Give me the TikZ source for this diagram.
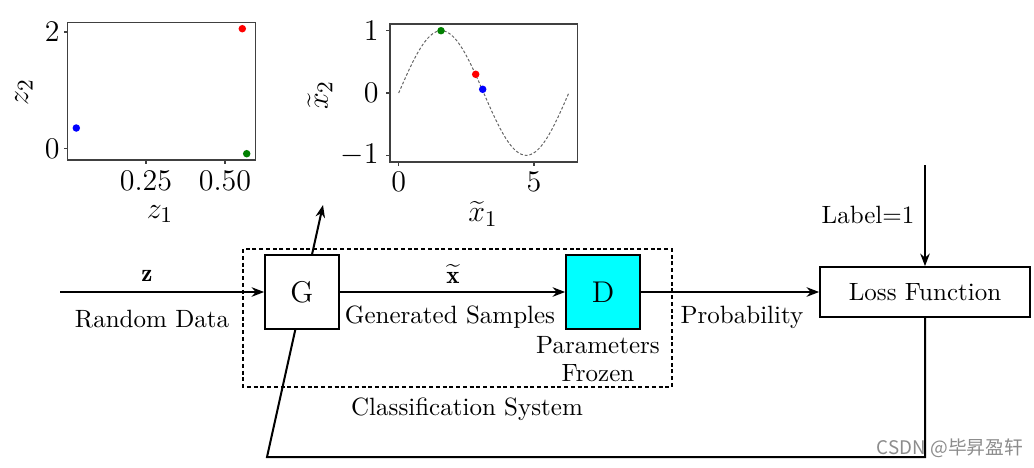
\documentclass[tikz,border=0pt]{standalone}
\usepackage{fontspec}
\newfontfamily\cjkfont{Noto Sans CJK SC}
\usetikzlibrary{arrows.meta}
\definecolor{dcyan}{RGB}{0,255,255}
\definecolor{dgreen}{RGB}{0,128,0}
\begin{document}
\begin{tikzpicture}[x=0.4pt,y=-0.4pt,
  frame/.style={draw=black!75, line width=0.55pt},
  tickmark/.style={draw=black!75, line width=0.55pt},
  ticklab/.style={font=\fontsize{12}{14}\selectfont, inner sep=0pt},
  axlab/.style={font=\fontsize{12.5}{14}\selectfont, inner sep=0pt},
  conn/.style={line width=0.8pt, -{Stealth[length=5pt,width=3.8pt]}},
  blockbox/.style={draw, line width=0.7pt, fill=white, minimum width=29.6pt, minimum height=29.6pt, inner sep=0pt, font=\fontsize{12}{14}\selectfont},
  lbl/.style={inner sep=0pt, font=\fontsize{10}{12}\selectfont}
]
\useasboundingbox (0,0) rectangle (1034,467);

% ---------- left scatter plot ----------
\draw[frame] (67.7,22.7) rectangle (255.3,160);
\foreach \y/\t in {32/2,148.7/0} {
  \draw[tickmark] (67.7,\y) -- (63.7,\y);
  \node[ticklab, anchor=east] (ly\t) at (60,\y) {$\t$};
}
\foreach \x/\t/\n in {146/0.25/a,225/0.50/b} {
  \draw[tickmark] (\x,160) -- (\x,164);
  \node[ticklab, anchor=north] (lx\n) at (\x,171) {$\t$};
}
\node[axlab] (zone) at (160,214) {$z_1$};
\node[axlab, rotate=90] (ztwo) at (24,92) {$z_2$};
\fill[red] (242.3,28.7) circle[radius=1.5pt];
\fill[blue] (76.3,128) circle[radius=1.5pt];
\fill[dgreen] (246.7,153.7) circle[radius=1.5pt];

% ---------- right sine plot ----------
\draw[frame] (390,24) rectangle (577.7,162);
\draw[black!60, line width=0.4pt, dash pattern=on 1.1pt off 0.8pt]
  plot[domain=0:6.2832, samples=120, smooth] ({398.7+27.07*\x},{93-62.3*sin(\x r)});
\foreach \y/\t/\n in {30.7/1/a,93/0/b,155.3/-1/c} {
  \draw[tickmark] (390,\y) -- (386,\y);
  \node[ticklab, anchor=east] (ry\n) at (379,\y) {$\t$};
}
\foreach \x/\t in {398.7/0,534/5} {
  \draw[tickmark] (\x,162) -- (\x,166);
  \node[ticklab, anchor=north] (rx\t) at (\x,172) {$\t$};
}
\node[axlab] (xone) at (483,214) {$\widetilde{x}_1$};
\node[axlab, rotate=90] (xtwo) at (320,95) {$\widetilde{x}_2$};
\fill[dgreen] (441,30.7) circle[radius=1.5pt];
\fill[red] (475.7,74.3) circle[radius=1.5pt];
\fill[blue] (482.7,89.3) circle[radius=1.5pt];

% ---------- block diagram ----------
\draw[line width=0.6pt, dash pattern=on 1.6pt off 1.1pt] (243,249) rectangle (672,387);
\node[lbl] (cls) at (467,409) {Classification System};

\node[draw, line width=0.7pt, minimum width=84pt, minimum height=20pt, inner sep=0pt, font=\fontsize{10}{12}\selectfont] (loss) at (925,292) {Loss Function};
\coordinate (fbcorner) at (267,457);
\coordinate (gup) at (323,205);
\draw[conn] (loss.south) |- (fbcorner) -- (gup);

\node[blockbox] (G) at (302,292) {G};
\node[blockbox, fill=dcyan] (D) at (603,292) {D};

\coordinate (zin) at (60,292);
\draw[conn] (zin) -- (G.west);
\node[lbl] (zlab) at (147,276) {$\mathbf{z}$};
\node[lbl] (rd) at (152,319) {Random Data};

\draw[conn] (G.east) -- (D.west);
\node[lbl] (xlab) at (453,274) {$\widetilde{\mathbf{x}}$};
\node[lbl] (gs) at (450,317) {Generated Samples};

\node[lbl, align=center] (pf) at (598,359) {Parameters\\[-1pt]Frozen};

\draw[conn] (D.east) -- (loss.west);
\node[lbl] (prob) at (742,317) {Probability};

\coordinate (labtop) at (925,165);
\draw[conn] (labtop) -- (loss.north);
\node[lbl] (labl) at (868,215) {Label=1};

\node[inner sep=0pt, text=black!45, font=\cjkfont\fontsize{7.5}{9}\selectfont] (wm) at (950,448) {CSDN @毕昇盈轩};
\end{tikzpicture}
\end{document}
